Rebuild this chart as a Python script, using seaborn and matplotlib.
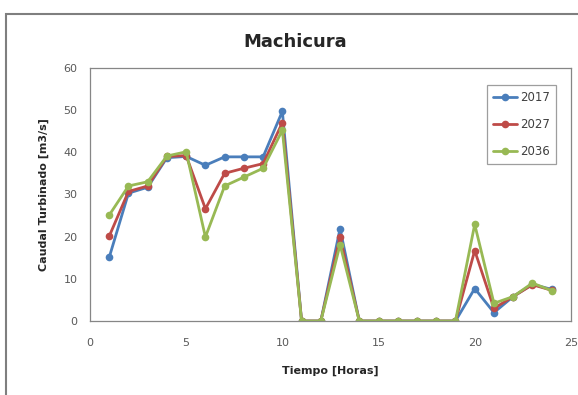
import matplotlib
matplotlib.use("Agg")
import matplotlib.pyplot as plt
import pandas as pd
import seaborn as sns
from matplotlib.patches import Rectangle

# Hourly turbined flow at Machicura, one series per year
horas = list(range(1, 25))
caudal_2017 = [15.1, 30.3, 31.7, 38.7, 39.0, 36.9, 38.9, 38.9, 38.9, 49.7, 0, 0,
               21.9, 0, 0, 0, 0, 0, 0, 7.7, 2.0, 5.8, 8.7, 7.5]
caudal_2027 = [20.1, 30.7, 32.0, 39.0, 39.2, 26.6, 35.0, 36.2, 37.3, 47.0, 0, 0,
               19.9, 0, 0, 0, 0, 0, 0, 16.7, 3.0, 5.8, 8.6, 7.3]
caudal_2036 = [25.1, 32.0, 33.0, 39.1, 40.1, 19.9, 32.0, 34.1, 36.2, 45.2, 0, 0,
               18.1, 0, 0, 0, 0, 0, 0, 22.9, 4.2, 5.8, 9.0, 7.2]
anios = ["2017", "2027", "2036"]
colores = ["#4A7EBB", "#BE4B48", "#98B954"]

df = pd.DataFrame({"Hora": horas * 3,
                   "Caudal": caudal_2017 + caudal_2027 + caudal_2036,
                   "Año": [a for a in anios for _ in horas]})

sns.set_style("white")
fig = plt.figure(figsize=(5.78, 3.95), dpi=100)
ax = fig.add_axes([0.1557, 0.1873, 0.832, 0.641])

sns.lineplot(data=df, x="Hora", y="Caudal", hue="Año", palette=colores,
             marker="o", markersize=5.5, markeredgewidth=0, linewidth=2.0, ax=ax)

ax.set_xlim(0, 25)
ax.set_ylim(0, 60)
ax.set_xticks(range(0, 26, 5))
ax.set_yticks(range(0, 61, 10))
ax.tick_params(axis="both", labelsize=8, colors="#595959", direction="in", length=4,
               width=0.8)
ax.tick_params(axis="x", pad=12)
ax.tick_params(axis="y", pad=9)
for s in ax.spines.values():
    s.set_color("#868686")
    s.set_linewidth(0.9)

ax.set_xlabel("Tiempo [Horas]", fontsize=8, fontweight="bold", color="#262626", labelpad=13)
ax.set_ylabel("Caudal Turbinado [m3/s]", fontsize=8, fontweight="bold", color="#262626", labelpad=10)
fig.text(0.51, 0.893, "Machicura", ha="center", va="center", fontsize=13, fontweight="bold")

leg = ax.legend(loc="upper right", bbox_to_anchor=(0.969, 0.933), fontsize=8.5, frameon=True,
                fancybox=False, handlelength=2.0, handletextpad=0.3, labelspacing=1.2,
                borderpad=0.5, borderaxespad=0)
leg.get_frame().set_edgecolor("#868686")
leg.get_frame().set_linewidth(0.9)
for t in leg.get_texts():
    t.set_color("#404040")

# Outer chart frame, cut off at right and bottom in the original
fig.patches.append(Rectangle((6 / 578, -0.1), 1.2, (395 - 14) / 395 + 0.1,
                             transform=fig.transFigure, fill=False,
                             edgecolor="#7f7f7f", linewidth=1.5))

plt.savefig("out.png", dpi=100)
